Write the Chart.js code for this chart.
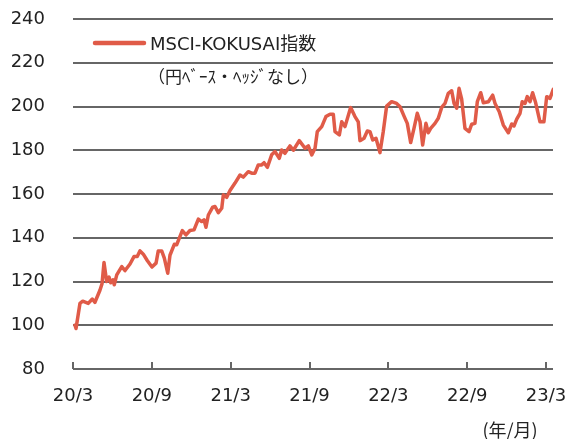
<!DOCTYPE html>
<html>
<head>
<meta charset="utf-8">
<script src="https://cdn.jsdelivr.net/npm/chart.js@4"></script>
<style>
html,body{margin:0;padding:0;background:#fff;overflow:hidden;}
#wrap{position:relative;width:570px;height:439px;}
</style>
</head>
<body>
<div id="wrap"><canvas id="c" width="570" height="439"></canvas></div>
<script>
// Time offset in months from 2020/3
const months = [0.15,0.23,0.53,0.74,1.16,1.47,1.67,2.05,2.21,2.36,2.56,2.74,2.87,3.04,3.14,3.33,3.71,3.96,4.34,4.64,4.89,5.10,5.35,5.65,6.01,6.32,6.49,6.75,6.95,7.21,7.38,7.71,7.89,8.09,8.32,8.60,8.90,9.21,9.54,9.79,9.97,10.12,10.30,10.63,10.81,11.06,11.32,11.44,11.70,11.95,12.33,12.71,12.96,13.34,13.60,13.85,14.10,14.36,14.54,14.79,15.12,15.37,15.70,15.88,16.13,16.51,16.77,17.22,17.66,17.91,18.17,18.42,18.59,18.93,19.25,19.56,19.81,19.94,20.27,20.45,20.70,21.13,21.46,21.71,21.84,22.15,22.40,22.60,22.81,23.06,23.36,23.61,23.87,24.25,24.63,24.89,25.21,25.44,25.70,25.95,26.20,26.41,26.61,26.86,27.04,27.22,27.55,27.80,28.06,28.31,28.56,28.82,29.00,29.20,29.38,29.58,29.83,30.14,30.34,30.59,30.77,31.03,31.23,31.61,31.94,32.12,32.44,32.75,33.13,33.39,33.56,33.77,34.02,34.19,34.40,34.57,34.78,34.98,35.21,35.54,35.84,36.05,36.30,36.55];
// MSCI-KOKUSAI index (yen base, unhedged), start = 100
const values = [100,98.5,110,111,110,112,110.5,116,119,128.7,120,122,119.4,120.8,118.5,123,126.8,125,128,131.4,131.4,134,132.5,129.6,126.6,128.4,134,134,130.7,123.8,132,137,136.8,139.8,143.3,141.3,143.3,143.6,148.5,147.4,148.2,144.8,150.4,154,154.3,151.5,153.5,159.6,158.5,161.6,165,168.7,167.7,170.2,169.5,169.5,173.3,173.3,174.3,172.2,177.9,179.4,176.3,180.1,178.6,182,180,184.4,180.9,182,177.9,180.9,188.5,190.8,195.4,196.5,196.5,188.5,187,193,190.8,199.5,195.4,193,184.4,185.5,188.8,188.5,184.7,185.5,178.9,188.5,200.2,202.2,201.4,199.9,195.4,192.3,183.5,190,196.9,193,182.4,192.3,188,190,192.3,194.6,199.6,201.4,206,207.2,201.4,199.2,208.3,203.3,190,188.5,191.9,192.3,202.2,206.3,201.7,202.2,205.2,201.4,197.6,191.5,188,192,191.1,194.2,196.9,202.2,201.4,204.5,202.2,206.3,201.7,193,193,204.5,203.7,207.9];
const tickMonths = [0,6,12,18,24,30,36];
const tickLabels = ['20/3','20/9','21/3','21/9','22/3','22/9','23/3'];
const yTicks = [80,100,120,140,160,180,200,220,240];
const seriesName = 'MSCI-KOKUSAI指数';
const seriesNote = '（円ﾍﾞｰｽ・ﾍｯｼﾞなし）';
const unitLabel = '(年/月)';

const RED = '#e05b48';
const GRID = '#666666';
const TEXT = '#222222';

const points = months.map((m, i) => ({x: m, y: values[i]}));

const decor = {
  id: 'decor',
  beforeDatasetsDraw(chart) {
    const ctx = chart.ctx;
    const xs = chart.scales.x, ys = chart.scales.y;
    const {left, right, bottom} = chart.chartArea;
    ctx.save();
    ctx.fillStyle = GRID;
    // horizontal grid lines (the 80 line doubles as the x axis)
    yTicks.forEach(v => {
      const py = Math.round(ys.getPixelForValue(v));
      ctx.fillRect(Math.round(left), py - 1, Math.round(right - left), 2);
    });
    // inward tick marks on the x axis
    tickMonths.forEach(m => {
      const px = Math.round(xs.getPixelForValue(m));
      ctx.fillRect(px - 1, Math.round(bottom) - 7, 2, 7);
    });
    ctx.restore();
  },
  afterDraw(chart) {
    const ctx = chart.ctx;
    ctx.save();
    ctx.strokeStyle = RED;
    ctx.lineWidth = 4.5;
    ctx.lineCap = 'round';
    ctx.beginPath();
    ctx.moveTo(95, 43);
    ctx.lineTo(144, 43);
    ctx.stroke();
    ctx.fillStyle = TEXT;
    ctx.textBaseline = 'alphabetic';
    ctx.textAlign = 'left';
    ctx.font = '18px "DejaVu Sans", "Noto Sans CJK JP", sans-serif';
    ctx.fillText(seriesName, 150, 50);
    ctx.font = '17px "Noto Sans CJK JP", sans-serif';
    ctx.fillText(seriesNote, 148, 83);
    ctx.font = '18px "Noto Sans CJK JP", sans-serif';
    ctx.textAlign = 'center';
    ctx.fillText(unitLabel, 510, 437);
    ctx.restore();
  }
};

new Chart(document.getElementById('c'), {
  type: 'line',
  data: {
    datasets: [{
      label: seriesName,
      data: points,
      borderColor: RED,
      borderWidth: 3.5,
      pointRadius: 0,
      tension: 0,
      borderJoinStyle: 'round',
      borderCapStyle: 'round',
      fill: false
    }]
  },
  options: {
    responsive: false,
    animation: false,
    devicePixelRatio: 1,
    layout: {padding: {top: 19, right: 17, left: 0, bottom: 0}},
    plugins: {legend: {display: false}, tooltip: {enabled: false}},
    scales: {
      x: {
        type: 'linear',
        min: 0,
        max: 36.53,
        afterBuildTicks: s => { s.ticks = tickMonths.map(v => ({value: v})); },
        afterFit: s => { s.height = 70; s.paddingLeft = 0; s.paddingRight = 0; },
        grid: {display: false, drawTicks: false},
        border: {display: false},
        ticks: {
          autoSkip: false,
          maxRotation: 0,
          padding: 17,
          color: TEXT,
          font: {family: '"DejaVu Sans", sans-serif', size: 18},
          callback: v => { const i = tickMonths.indexOf(v); return i >= 0 ? tickLabels[i] : ''; }
        }
      },
      y: {
        min: 80,
        max: 240,
        afterBuildTicks: s => { s.ticks = yTicks.map(v => ({value: v})); },
        afterFit: s => { s.width = 73; s.paddingTop = 0; s.paddingBottom = 0; },
        grid: {display: false, drawTicks: false},
        border: {display: false},
        ticks: {
          padding: 28,
          color: TEXT,
          font: {family: '"DejaVu Sans", sans-serif', size: 18}
        }
      }
    }
  },
  plugins: [decor]
});
</script>
</body>
</html>
